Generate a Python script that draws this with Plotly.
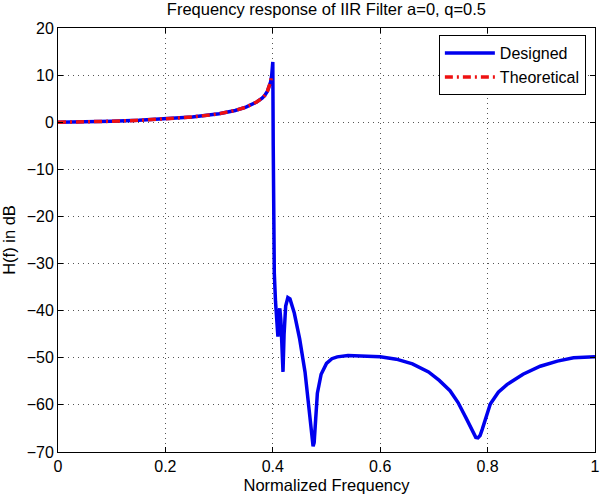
import plotly.graph_objects as go

# Designed filter response (normalized frequency, dB)
designed_f = [0, 0.05, 0.1, 0.15, 0.2, 0.25, 0.3, 0.33, 0.35, 0.37, 0.38, 0.385, 0.39, 0.393,
              0.396, 0.398, 0.399, 0.4, 0.4008, 0.4012, 0.402, 0.4028, 0.405, 0.408, 0.4095,
              0.411, 0.413, 0.415, 0.417, 0.419, 0.421, 0.424, 0.428, 0.432, 0.44, 0.45, 0.46,
              0.466, 0.47, 0.473, 0.475, 0.477, 0.48, 0.483, 0.49, 0.5, 0.51, 0.52, 0.54, 0.58,
              0.6, 0.63, 0.66, 0.69, 0.71, 0.73, 0.745, 0.76, 0.768, 0.774, 0.778, 0.782,
              0.786, 0.79, 0.796, 0.805, 0.82, 0.836, 0.866, 0.898, 0.93, 0.96, 1.0]
designed_db = [0, 0.05, 0.2, 0.4, 0.7, 1.1, 1.8, 2.5, 3.2, 4.3, 5.1, 5.7, 6.6, 7.4,
               8.6, 10, 11.3, 12.8, -5, -31, -27, -32, -38, -43, -45.5,
               -41, -39.5, -42, -47, -53, -45, -39, -37.2, -37.5, -40.5, -46, -53,
               -59, -64, -67.5, -68.8, -68, -63, -57.5, -53.5, -51.2, -50.2, -49.8, -49.5, -49.6,
               -49.8, -50.3, -51.3, -53, -54.8, -57, -59.5, -62.8, -64.8, -66.3, -66.9, -67,
               -66.5, -65.2, -62.8, -59.8, -57.3, -55.7, -53.5, -51.8, -50.7, -50, -49.8]

# Theoretical response (passband only)
theory_f = [0, 0.05, 0.1, 0.15, 0.2, 0.25, 0.3, 0.33, 0.35, 0.37, 0.38, 0.385, 0.39,
            0.393, 0.396, 0.398]
theory_db = [0, 0.05, 0.2, 0.4, 0.7, 1.1, 1.8, 2.5, 3.2, 4.3, 5.1, 5.7, 6.6,
             7.4, 8.6, 10]

x_ticks = [0, 0.2, 0.4, 0.6, 0.8, 1]
x_ticktext = ["0", "0.2", "0.4", "0.6", "0.8", "1"]
y_ticks = [20, 10, 0, -10, -20, -30, -40, -50, -60, -70]

FONT = "Liberation Sans, Arial, Helvetica, sans-serif"

fig = go.Figure()
fig.add_trace(go.Scatter(x=designed_f, y=designed_db, mode="lines", name="Designed",
                         line=dict(color="#0000ee", width=3.5)))
fig.add_trace(go.Scatter(x=theory_f, y=theory_db, mode="lines", name="Theoretical",
                         line=dict(color="#ee1111", width=3.5, dash="8px,4px,2px,4px")))

axis_common = dict(showline=True, linecolor="black", linewidth=1, mirror="ticks",
                   ticks="inside", ticklen=5, tickcolor="black", showgrid=True,
                   gridcolor="#555555", gridwidth=1, griddash="1px,4px", zeroline=False,
                   tickfont=dict(size=16, color="black", family=FONT))

fig.update_xaxes(range=[0, 1], tickvals=x_ticks, ticktext=x_ticktext,
                 title=dict(text="Normalized Frequency", font=dict(size=16.5, color="black", family=FONT),
                            standoff=5),
                 **axis_common)
fig.update_yaxes(range=[-70, 20], tickvals=y_ticks,
                 title=dict(text="H(f) in dB", font=dict(size=16.5, color="black", family=FONT),
                            standoff=6),
                 **axis_common)

fig.update_layout(
    width=600, height=495,
    margin=dict(l=58, r=5, t=28, b=43, autoexpand=False),
    paper_bgcolor="white", plot_bgcolor="white",
    font=dict(family=FONT, size=16, color="black"),
    title=dict(text="Frequency response of IIR Filter a=0, q=0.5", x=0.544, xanchor="center",
               y=0.993, yanchor="top", font=dict(size=16.5, color="black", family=FONT)),
    legend=dict(x=0.983, y=0.983, xanchor="right", yanchor="top", bgcolor="white",
                bordercolor="black", borderwidth=1, font=dict(size=16, color="black", family=FONT),
                itemwidth=50, tracegroupgap=0),
    showlegend=True,
)

fig.write_html("out.html", config={"displayModeBar": False},
               post_script="document.body.style.margin='0';document.body.style.overflow='hidden';")
